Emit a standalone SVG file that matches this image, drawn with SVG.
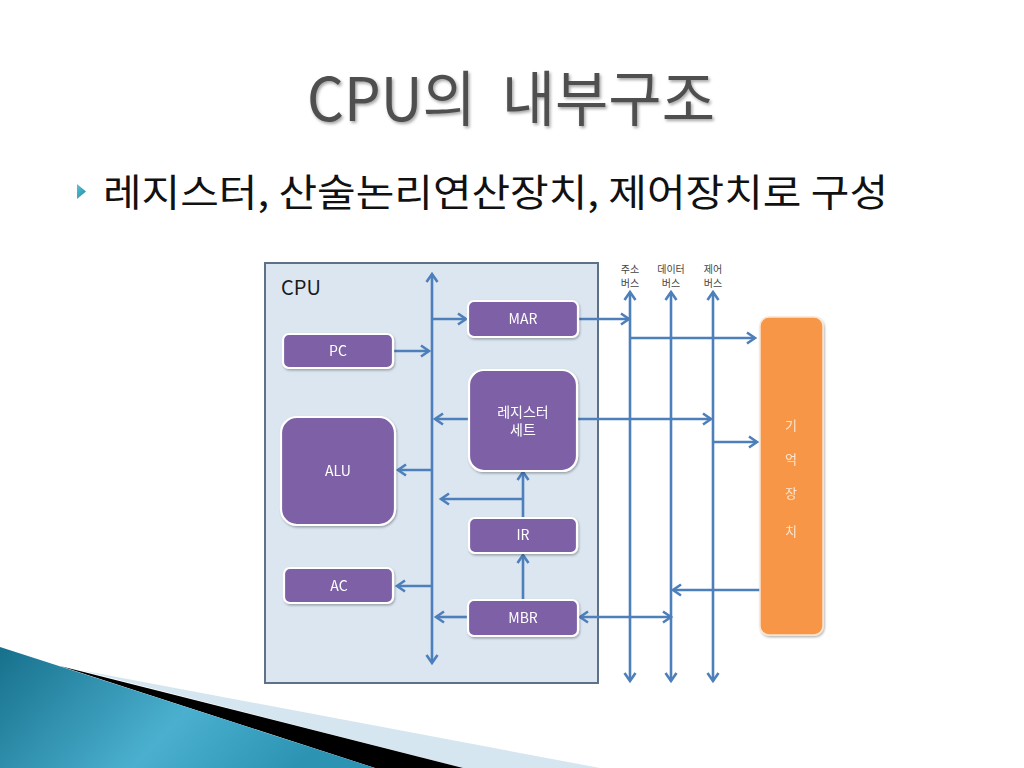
<svg xmlns="http://www.w3.org/2000/svg" width="1024" height="768" viewBox="0 0 1024 768">
<defs>
<style>
.node rect{fill:#7e60a6;stroke:#ffffff;stroke-width:2.2}
.node text{fill:#ffffff;font-family:"Noto Sans CJK KR","Noto Sans",sans-serif;font-size:14px;text-anchor:middle}
.conn line{stroke:#4d7fbb;stroke-width:2.6;fill:none}
.buslbl{fill:#444444;font-family:"Noto Sans CJK KR",sans-serif;font-size:10px;text-anchor:middle}
.mem text{fill:#fde6d2;font-family:"Noto Sans CJK KR",sans-serif;font-size:13px;text-anchor:middle}
</style>
<marker id="ah" markerUnits="userSpaceOnUse" markerWidth="14" markerHeight="14" viewBox="0 0 14 14" refX="11" refY="7" orient="auto-start-reverse">
<path d="M3,1.5 L11,7 L3,12.5" fill="none" stroke="#4d7fbb" stroke-width="2.6"/>
</marker>
<filter id="sh" x="-10%" y="-10%" width="130%" height="130%">
<feDropShadow dx="1" dy="1.5" stdDeviation="1.2" flood-color="#000" flood-opacity="0.3"/>
</filter>
<filter id="tsh" x="-5%" y="-10%" width="110%" height="130%">
<feDropShadow dx="1.5" dy="2" stdDeviation="1.5" flood-color="#000" flood-opacity="0.35"/>
</filter>
<linearGradient id="teal" x1="0" y1="0" x2="1" y2="0.3">
<stop offset="0" stop-color="#16708c"/>
<stop offset="0.6" stop-color="#4bb0cf"/>
<stop offset="1" stop-color="#2c93b3"/>
</linearGradient>
<linearGradient id="bul" x1="0" y1="0" x2="1" y2="1">
<stop offset="0" stop-color="#5cc3d8"/>
<stop offset="1" stop-color="#1d8aa6"/>
</linearGradient>
</defs>
<rect width="1024" height="768" fill="#ffffff"/>

<!-- decoration -->
<g id="decoration">
<polygon points="80,670 600,768 463,768" fill="#d6e6f0"/>
<polygon points="60,666 463,768 375,768" fill="#000000"/>
<polygon points="0,647 375,768 0,768" fill="url(#teal)"/>
</g>

<!-- title -->
<g id="title">
<text x="307" y="121" textLength="408" lengthAdjust="spacingAndGlyphs" font-family="Noto Sans CJK KR, sans-serif" font-size="60" fill="#505050" filter="url(#tsh)" xml:space="preserve">CPU의  내부구조</text>
</g>
<g id="bullet">
<polygon points="77,184 86,191.5 77,199" fill="url(#bul)"/>
<text x="103" y="206" textLength="785" lengthAdjust="spacingAndGlyphs" font-family="Noto Sans CJK KR, sans-serif" font-size="38" fill="#111111">레지스터, 산술논리연산장치, 제어장치로 구성</text>
</g>

<!-- CPU container -->
<g id="cpu">
<rect x="265" y="263" width="333" height="420" fill="#dce6f1" stroke="#5d7188" stroke-width="2"/>
<text x="281" y="295" font-family="Noto Sans CJK KR, sans-serif" font-size="20" fill="#1a1a1a">CPU</text>
</g>

<g id="bus-labels">
<text class="buslbl" x="630" y="273">주소</text>
<text class="buslbl" x="630" y="287">버스</text>
<text class="buslbl" x="671" y="273">데이터</text>
<text class="buslbl" x="671" y="287">버스</text>
<text class="buslbl" x="713" y="273">제어</text>
<text class="buslbl" x="713" y="287">버스</text>
</g>

<!-- connectors -->
<g id="connectors" class="conn">
<line x1="432" y1="274" x2="432" y2="663" marker-start="url(#ah)" marker-end="url(#ah)"/>
<line x1="393" y1="351" x2="429" y2="351" marker-end="url(#ah)"/>
<line x1="432" y1="319" x2="466" y2="319" marker-end="url(#ah)"/>
<line x1="469" y1="419" x2="435" y2="419" marker-end="url(#ah)"/>
<line x1="432" y1="470" x2="398" y2="470" marker-end="url(#ah)"/>
<line x1="523" y1="518" x2="523" y2="472" marker-end="url(#ah)"/>
<line x1="523" y1="499" x2="441" y2="499" marker-end="url(#ah)"/>
<line x1="523" y1="600" x2="523" y2="555" marker-end="url(#ah)"/>
<line x1="432" y1="586" x2="397" y2="586" marker-end="url(#ah)"/>
<line x1="468" y1="617" x2="436" y2="617" marker-end="url(#ah)"/>
<line x1="580" y1="617" x2="671" y2="617" marker-start="url(#ah)" marker-end="url(#ah)"/>
<line x1="578" y1="319" x2="629" y2="319" marker-end="url(#ah)"/>
<line x1="630" y1="292" x2="630" y2="681" marker-start="url(#ah)" marker-end="url(#ah)"/>
<line x1="671" y1="292" x2="671" y2="681" marker-start="url(#ah)" marker-end="url(#ah)"/>
<line x1="713" y1="292" x2="713" y2="681" marker-start="url(#ah)" marker-end="url(#ah)"/>
<line x1="630" y1="338" x2="755" y2="338" marker-end="url(#ah)"/>
<line x1="578" y1="419" x2="711" y2="419" marker-end="url(#ah)"/>
<line x1="713" y1="442" x2="757" y2="442" marker-end="url(#ah)"/>
<line x1="760" y1="590" x2="673" y2="590" marker-end="url(#ah)"/>
</g>

<!-- nodes -->
<g id="node-mar" class="node" filter="url(#sh)">
<rect x="468" y="301" width="110" height="36" rx="6"/>
<text x="523" y="324">MAR</text>
</g>
<g id="node-pc" class="node" filter="url(#sh)">
<rect x="283" y="334" width="110" height="34" rx="6"/>
<text x="338" y="356">PC</text>
</g>
<g id="node-regset" class="node" filter="url(#sh)">
<rect x="469" y="370" width="108" height="101" rx="15"/>
<text x="523" y="417">레지스터</text>
<text x="523" y="435">세트</text>
</g>
<g id="node-alu" class="node" filter="url(#sh)">
<rect x="281" y="417" width="114" height="108" rx="16"/>
<text x="338" y="476">ALU</text>
</g>
<g id="node-ir" class="node" filter="url(#sh)">
<rect x="469" y="518" width="108" height="35" rx="6"/>
<text x="523" y="540">IR</text>
</g>
<g id="node-ac" class="node" filter="url(#sh)">
<rect x="284" y="568" width="109" height="35" rx="6"/>
<text x="339" y="591">AC</text>
</g>
<g id="node-mbr" class="node" filter="url(#sh)">
<rect x="468" y="600" width="110" height="36" rx="6"/>
<text x="523" y="623">MBR</text>
</g>
<g id="node-memory" class="mem" filter="url(#sh)">
<rect x="760" y="317" width="63" height="318" rx="9" fill="#f79646" stroke="#fbe5d2" stroke-width="1.5"/>
<text x="791" y="430">기</text>
<text x="791" y="464">억</text>
<text x="791" y="498">장</text>
<text x="791" y="536">치</text>
</g>
</svg>
